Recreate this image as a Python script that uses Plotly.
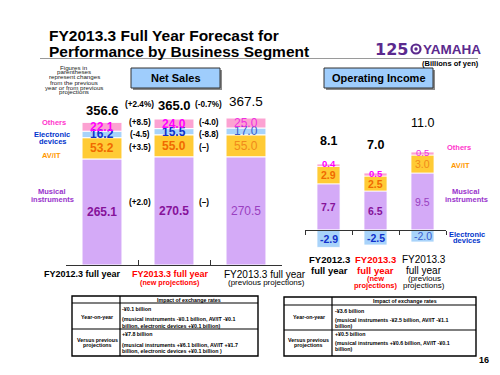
import plotly.graph_objects as go

W, H = 500, 375
FONT = "Liberation Sans, Arial, sans-serif"

# ---------------- data ----------------
categories = ["FY2012.3 full year", "FY2013.3 full year (new projections)",
              "FY2013.3 full year (previous projections)"]

ns_musical = [265.1, 270.5, 270.5]
ns_avit = [53.2, 55.0, 55.0]
ns_electronic = [16.2, 15.5, 17.0]
ns_others = [22.1, 24.0, 25.0]
ns_totals = [356.6, 365.0, 367.5]

ns_change_total = ["(+2.4%)", "(-0.7%)"]
ns_change_others = ["(+8.5)", "(-4.0)"]
ns_change_electronic = ["(-4.5)", "(-8.8)"]
ns_change_avit = ["(+3.5)", "(\u2013)"]
ns_change_musical = ["(+2.0)", "(\u2013)"]

oi_musical = [7.7, 6.5, 9.5]
oi_avit = [2.9, 2.5, 3.0]
oi_others = [0.4, 0.5, 0.5]
oi_electronic = [-2.9, -2.5, -2.0]
oi_totals = [8.1, 7.0, 11.0]

segment_names = ["Musical instruments", "AV/IT", "Electronic devices", "Others"]

table_header = "Impact of exchange rates"
table_rows = ["Year-on-year", "Versus previous projections"]
ns_table = [
    ["-\u00a50.1 billion",
     "(musical instruments -\u00a50.1 billion, AV/IT -\u00a50.1",
     "billion, electronic devices +\u00a50.1 billion)"],
    ["+\u00a57.8 billion",
     "(musical instruments +\u00a56.1 billion, AV/IT +\u00a51.7",
     "billion, electronic devices +\u00a50.1 billion )"],
]
oi_table = [
    ["-\u00a53.6 billion",
     "(musical instruments -\u00a52.5 billion, AV/IT -\u00a51.1",
     "billion)"],
    ["+\u00a50.5 billion",
     "(musical instruments +\u00a50.6 billion, AV/IT -\u00a50.1",
     "billion)"],
]

# ---------------- styles ----------------
FILL = {"Musical instruments": "#d4aaf7", "AV/IT": "#ffcb35",
        "Electronic devices": "#a8d3fa", "Others": "#fca2d2"}
TXT = {"Musical instruments": "#86129a", "AV/IT": "#f06a00",
       "Electronic devices": "#1030cc", "Others": "#ff00ff"}
TXT_LIGHT = {"Musical instruments": "#9a40c0", "AV/IT": "#f08a1a",
             "Electronic devices": "#3a5ccc", "Others": "#f030e0"}
LBL = {"Musical instruments": "#9933cc", "AV/IT": "#ff9900",
       "Electronic devices": "#0033cc", "Others": "#ff33cc"}


def PX(x):
    return x / W


def PY(y):
    return 1 - y / H


fig = go.Figure()

ns_series = [ns_musical, ns_avit, ns_electronic, ns_others]
oi_series = [oi_musical, oi_avit, oi_electronic, oi_others]

for name, vals in zip(segment_names, ns_series):
    fig.add_trace(go.Bar(x=categories, y=vals, name=name, xaxis="x", yaxis="y",
                         width=0.555, marker=dict(color=FILL[name], line=dict(color="white", width=1)),
                         hoverinfo="skip", showlegend=False))
for name, vals in zip(segment_names, oi_series):
    fig.add_trace(go.Bar(x=categories, y=vals, name=name, xaxis="x2", yaxis="y2",
                         width=0.49, marker=dict(color=FILL[name], line=dict(color="white", width=0.8)),
                         hoverinfo="skip", showlegend=False))

ann = []


def A(text, x, y, size, color="#000", xanchor="center", xref="paper", yref="paper",
      yshift=0, yanchor="middle", family=FONT):
    ann.append(dict(text=text, x=x, y=y, xref=xref, yref=yref, showarrow=False,
                    xanchor=xanchor, yanchor=yanchor, yshift=yshift, borderpad=0,
                    font=dict(family=family, size=size, color=color)))


# bar value labels (net sales)
for i, cat in enumerate(categories):
    base = 0
    for name, vals in zip(segment_names, ns_series):
        v = vals[i]
        mid = base + v / 2
        base += v
        txt = f"{v:.1f}"
        if i < 2:
            A(f"<b>{txt}</b>", cat, mid, 12, TXT[name], xref="x", yref="y")
        else:
            A(txt, cat, mid, 12, TXT_LIGHT[name], xref="x", yref="y")

# bar value labels (operating income)
for i, cat in enumerate(categories):
    pos = 0
    neg = 0
    for name, vals in zip(segment_names, oi_series):
        v = vals[i]
        if v >= 0:
            mid = pos + v / 2
            pos += v
        else:
            mid = neg + v / 2
            neg += v
        txt = f"{v:.1f}"
        size = 9.5 if name == "Others" else 10.5
        ys = 1.5 if name == "Others" else 0
        if i < 2:
            A(f"<b>{txt}</b>", cat, mid, size, TXT[name], xref="x2", yref="y2", yshift=ys)
        else:
            A(txt, cat, mid, size, TXT_LIGHT[name], xref="x2", yref="y2", yshift=ys)

# totals
ns_total_py = [103, 97.5, 93]
for i, cat in enumerate(categories):
    t = f"{ns_totals[i]:.1f}"
    A(f"<b>{t}</b>" if i < 2 else t, cat, PY(ns_total_py[i]), 13 if i < 2 else 13.5, "#000", xref="x")
oi_total_py = [133, 137, 115]
for i, cat in enumerate(categories):
    t = f"{oi_totals[i]:.1f}"
    A(f"<b>{t}</b>" if i < 2 else t, cat, PY(oi_total_py[i]), 12.5, "#000", xref="x2")

# change labels
chg_x = [131, 200]
for j in range(2):
    A(f"<b>{ns_change_total[j]}</b>", PX(chg_x[j]), PY(97), 8.2)
    A(f"<b>{ns_change_others[j]}</b>", PX(chg_x[j] + 1), PY(114.5), 8.2)
    A(f"<b>{ns_change_electronic[j]}</b>", PX(chg_x[j] + 1), PY(126), 8.2)
    A(f"<b>{ns_change_avit[j]}</b>", PX(chg_x[j] + 1 - 5 * j), PY(140), 8.2)
    A(f"<b>{ns_change_musical[j]}</b>", PX(chg_x[j] + 1 - 5 * j), PY(194), 8.2)

# segment legends - left
A("<b>Others</b>", PX(46), PY(115), 7.5, LBL["Others"])
A("<b>Electronic</b>", PX(44), PY(126), 7.5, LBL["Electronic devices"])
A("<b>devices</b>", PX(45), PY(133.5), 7.5, LBL["Electronic devices"])
A("<b>AV/IT</b>", PX(43), PY(147), 7.5, LBL["AV/IT"])
A("<b>Musical</b>", PX(44), PY(183), 7.5, LBL["Musical instruments"])
A("<b>instruments</b>", PX(44), PY(191), 7.5, LBL["Musical instruments"])

# segment legends - right
A("<b>Others</b>", PX(451), PY(140), 7.5, LBL["Others"])
A("<b>AV/IT</b>", PX(452), PY(157), 7.5, LBL["AV/IT"])
A("<b>Musical</b>", PX(458), PY(183), 7.5, LBL["Musical instruments"])
A("<b>instruments</b>", PX(458), PY(191), 7.5, LBL["Musical instruments"])
A("<b>Electronic</b>", PX(459), PY(226), 7.5, LBL["Electronic devices"])
A("<b>devices</b>", PX(459), PY(233), 7.5, LBL["Electronic devices"])

# note
note_lines = ["Figures in", "parentheses", "represent changes", "from the previous",
              "year or from previous", "projections"]
for k, line in enumerate(note_lines):
    A(line, PX(66), PY(59 + k * 5.0), 6.2, "#222")

# category labels - net sales
A("<b>FY2012.3 full year</b>", PX(74), PY(266), 9)
A("<b>FY2013.3 full year</b>", PX(162), PY(266), 9, "#ff0000")
A("<b>(new projections)</b>", PX(162), PY(274), 7.2, "#ff0000")
A("FY2013.3 full year", PX(257), PY(266), 10)
A("(previous projections)", PX(258), PY(274), 8)

# category labels - operating income
A("<b>FY2012.3</b>", PX(321), PY(251), 9.5)
A("<b>full year</b>", PX(321), PY(262), 9.5)
A("<b>FY2013.3</b>", PX(367), PY(251), 9.5, "#ff0000")
A("<b>full year</b>", PX(367), PY(262), 9.5, "#ff0000")
A("<b>(new</b>", PX(367), PY(270), 7.5, "#ff0000")
A("<b>projections)</b>", PX(367), PY(277), 7.5, "#ff0000")
A("FY2013.3", PX(416), PY(251), 10)
A("full year", PX(416), PY(262), 10)
A("(previous", PX(416), PY(270), 8)
A("projections)", PX(416), PY(277), 8)

# panel titles
A("<b>Net Sales</b>", PX(167.5), PY(70), 11)
A("<b>Operating Income</b>", PX(370.5), PY(70.5), 11)

# title
A("<b>FY2013.3 Full Year Forecast for</b>", PX(40), PY(27.5), 15.5, xanchor="left")
A("<b>Performance by Business Segment</b>", PX(40), PY(43.5), 15.5, xanchor="left")

# logo
A("<b>125</b>", PX(366), PY(41.5), 16, "#5b2a8e", xanchor="left", family="DejaVu Sans")
A("<b>YAMAHA</b>", PX(414), PY(41.5), 13.5, "#5b2a8e", xanchor="left")
A("<b>(Billions of yen)</b>", PX(442), PY(56), 7.5)

# page number
A("<b>16</b>", PX(476), PY(352), 9)

# tables text
TS = 5.3
A(f"<b>{table_header}</b>", PX(181), PY(291.8), TS)
A(f"<b>{table_rows[0]}</b>", PX(89), PY(309), TS)
A("<b>Versus previous</b>", PX(89), PY(332.3), TS)
A("<b>projections</b>", PX(89), PY(337.3), TS)
for line, yy in zip(ns_table[0], [300.7, 311, 317.7]):
    A(f"<b>{line}</b>", PX(113), PY(yy), TS, xanchor="left")
for line, yy in zip(ns_table[1], [326.3, 336.7, 343.3]):
    A(f"<b>{line}</b>", PX(113), PY(yy), TS, xanchor="left")

A(f"<b>{table_header}</b>", PX(396.5), PY(293.3), TS)
A(f"<b>{table_rows[0]}</b>", PX(300.5), PY(309.3), TS)
A("<b>Versus previous</b>", PX(300.5), PY(331.7), TS)
A("<b>projections</b>", PX(300.5), PY(336.7), TS)
for line, yy in zip(oi_table[0], [303.3, 311.5, 317.5]):
    A(f"<b>{line}</b>", PX(325.5), PY(yy), TS, xanchor="left")
for line, yy in zip(oi_table[1], [325.7, 334.5, 340.7]):
    A(f"<b>{line}</b>", PX(325.5), PY(yy), TS, xanchor="left")

shapes = []


def line(x0, y0, x1, y1, color="#000", width=1.2):
    shapes.append(dict(type="line", xref="paper", yref="paper", x0=PX(x0), y0=PY(y0),
                       x1=PX(x1), y1=PY(y1), line=dict(color=color, width=width)))


def rect(x0, y0, x1, y1, fill=None, color="#000", width=1.2):
    shapes.append(dict(type="rect", xref="paper", yref="paper", x0=PX(x0), y0=PY(y0),
                       x1=PX(x1), y1=PY(y1), fillcolor=fill or "rgba(0,0,0,0)",
                       line=dict(color=color, width=width), layer="below" if fill else "above"))


# title underline
line(32, 50.5, 470, 50.5, "#9a9a9a", 1)
# panel title boxes (with shadow)
rect(125, 62, 214, 82, "#8a8a8a", "#8a8a8a", 0)
rect(123, 60, 212, 80, "#9fcdfc", "#333", 1)
rect(318, 62, 427, 82, "#8a8a8a", "#8a8a8a", 0)
rect(316, 60, 425, 80, "#9fcdfc", "#333", 1)
# logo emblem
shapes.append(dict(type="circle", xref="paper", yref="paper", x0=PX(403.5), y0=PY(36.5),
                   x1=PX(412.5), y1=PY(45.5), fillcolor="#ffffff", line=dict(color="#5b2a8e", width=2.2)))
shapes.append(dict(type="circle", xref="paper", yref="paper", x0=PX(406.3), y0=PY(39.3),
                   x1=PX(409.7), y1=PY(42.7), fillcolor="#5b2a8e", line=dict(color="#5b2a8e", width=0)))
# tables
rect(64, 288, 250, 348, None, "#000", 1.4)
line(112, 288, 112, 348)
line(64, 295, 250, 295)
line(64, 321, 250, 321)
rect(276, 289, 468, 348, None, "#000", 1.4)
line(324, 289, 324, 348)
line(276, 297, 468, 297)
line(276, 322, 468, 322)

# axes geometry: zero lines at py 257 (net sales, 0.4 px/unit) and py 222 (op. income, 6 px/unit)
ns_zero_py, ns_scale = 257, 0.4
oi_zero_py, oi_scale = 222, 6.0

fig.update_layout(
    width=W, height=H, margin=dict(l=0, r=0, t=0, b=0),
    paper_bgcolor="white", plot_bgcolor="rgba(0,0,0,0)",
    barmode="relative", showlegend=False,
    font=dict(family=FONT),
    xaxis=dict(domain=[PX(58), PX(274)], type="category", range=[-0.5, 2.5],
               anchor="free", position=PY(ns_zero_py), showline=True, linecolor="#333", linewidth=1,
               ticks="inside", tickson="boundaries", ticklen=5, tickcolor="#333",
               showticklabels=False, showgrid=False, fixedrange=True),
    yaxis=dict(domain=[0, 1], range=[(ns_zero_py - H) / ns_scale, ns_zero_py / ns_scale],
               visible=False, fixedrange=True),
    xaxis2=dict(domain=[PX(297), PX(438)], type="category", range=[-0.5, 2.5],
                anchor="free", position=PY(oi_zero_py), showline=True, linecolor="#333", linewidth=1,
                ticks="outside", tickson="boundaries", ticklen=4, tickcolor="#333",
                showticklabels=False, showgrid=False, fixedrange=True),
    yaxis2=dict(domain=[0, 1], range=[(oi_zero_py - H) / oi_scale, oi_zero_py / oi_scale],
                anchor="x2", visible=False, fixedrange=True),
    annotations=ann, shapes=shapes,
)

fig.write_html("out.html")
